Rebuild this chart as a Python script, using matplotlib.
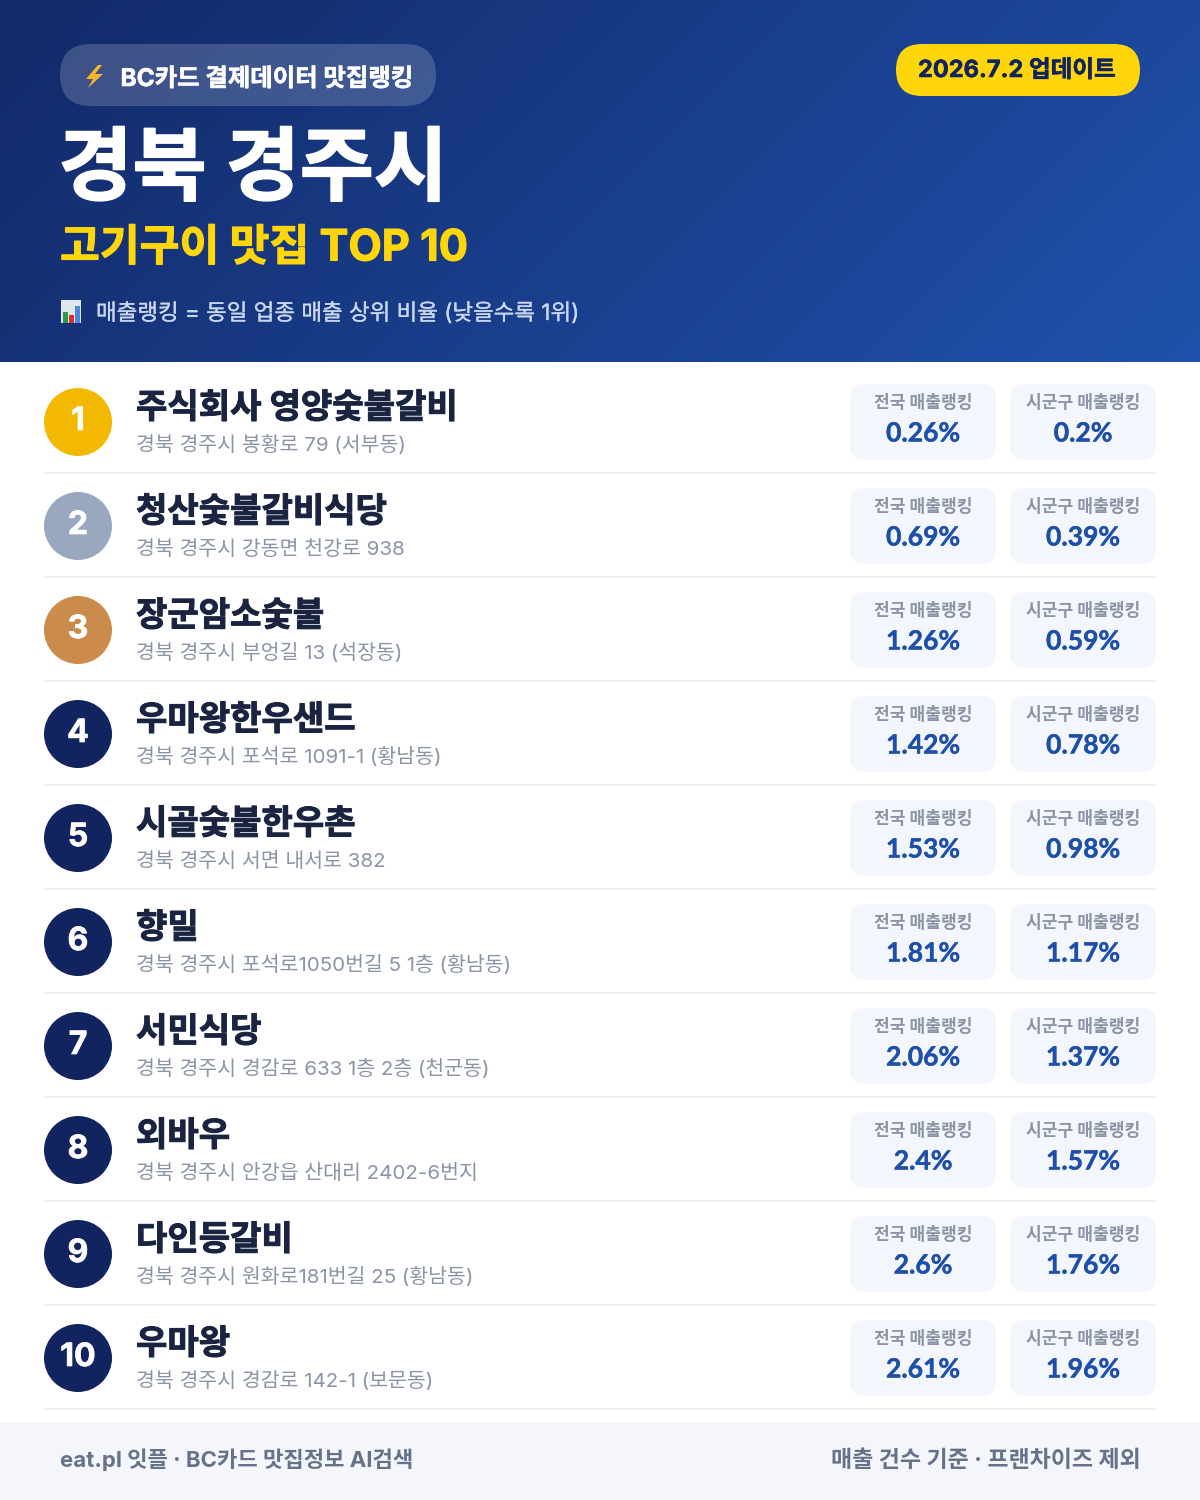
import numpy as np
import matplotlib
matplotlib.use('Agg')
import matplotlib.pyplot as plt
import matplotlib.patheffects as pe
from matplotlib.patches import FancyBboxPatch, Circle, Rectangle, Polygon

plt.rcParams['font.family'] = ['Inter', 'Noto Sans CJK KR', 'DejaVu Sans']

names = ['주식회사 영양숯불갈비', '청산숯불갈비식당', '장군암소숯불', '우마왕한우샌드', '시골숯불한우촌',
         '향밀', '서민식당', '외바우', '다인등갈비', '우마왕']
addrs = ['경북 경주시 봉황로 79 (서부동)', '경북 경주시 강동면 천강로 938', '경북 경주시 부엉길 13 (석장동)',
         '경북 경주시 포석로 1091-1 (황남동)', '경북 경주시 서면 내서로 382',
         '경북 경주시 포석로1050번길 5 1층 (황남동)', '경북 경주시 경감로 633 1층 2층 (천군동)',
         '경북 경주시 안강읍 산대리 2402-6번지', '경북 경주시 원화로181번길 25 (황남동)', '경북 경주시 경감로 142-1 (보문동)']
national = [0.26, 0.69, 1.26, 1.42, 1.53, 1.81, 2.06, 2.4, 2.6, 2.61]
local = [0.2, 0.39, 0.59, 0.78, 0.98, 1.17, 1.37, 1.57, 1.76, 1.96]
rank_colors = ['#f2b900', '#9aa8bf', '#cb8b4b'] + ['#12245f'] * 7

fig = plt.figure(figsize=(12, 15), dpi=100, facecolor='white')
ax = fig.add_axes([0, 0, 1, 1])
ax.set_xlim(0, 1200)
ax.set_ylim(1500, 0)
ax.axis('off')


def put(x, y, s, px, color, weight='regular', ha='left', stroke=0, **kw):
    # px = font size in image pixels, y = baseline, stroke thickens the glyphs
    t = ax.text(x, y, s, fontsize=px * 0.72, color=color, fontweight=weight, ha=ha, va='baseline', **kw)
    if stroke:
        t.set_path_effects([pe.withStroke(linewidth=stroke, foreground=color)])
    return t


def pill(x0, y0, x1, y1, r, color, alpha=1.0):
    ax.add_patch(FancyBboxPatch((x0 + r, y0 + r), x1 - x0 - 2 * r, y1 - y0 - 2 * r,
                                boxstyle=f'round,pad={r},rounding_size={r}',
                                fc=color, ec='none', alpha=alpha))


# header gradient
W, H = 1200, 362
yy, xx = np.mgrid[0:H, 0:W]
t = (xx * 1.0 + yy * 1.0) / (W + H)
t = np.clip(t, 0, 1)[..., None]
c0 = np.array([0x13, 0x29, 0x68]) / 255
c1 = np.array([0x1f, 0x52, 0xac]) / 255
ax.imshow(c0 + (c1 - c0) * t, extent=(0, W, H, 0), aspect='auto', zorder=0)
ax.set_xlim(0, 1200)
ax.set_ylim(1500, 0)

pill(60, 44, 436, 106, 31, '#ffffff', 0.18)
ax.add_patch(Polygon([(98, 65), (86, 79), (93, 79), (88, 88), (103, 74), (95, 74), (102, 65)],
                     fc='#f5b82e', ec='none'))
put(120.5, 86, 'BC카드 결제데이터 맛집랭킹', 24.4, 'white', 'bold', stroke=0.4)
pill(896, 44, 1140, 96, 26, '#ffd60a')
put(1017, 77, '2026.7.2 업데이트', 23.6, '#12245f', 'bold', ha='center', stroke=0.4)
put(58.5, 194, '경북 경주시', 80.5, 'white', 'bold', stroke=1.2)
put(60, 260.5, '고기구이 맛집 TOP 10', 43.3, '#ffd60a', 'bold', stroke=0.8)

# small chart icon
ax.add_patch(Rectangle((61, 300), 20, 23, fc='#dfe6ee', ec='none'))
for bx, bh, bc in zip([63, 69, 75], [11, 8, 17], ['#2c9a4b', '#d3322f', '#4f86d6']):
    ax.add_patch(Rectangle((bx, 323 - bh), 5, bh, fc=bc, ec='none'))
put(96, 320, '매출랭킹 = 동일 업종 매출 상위 비율 (낮을수록 1위)', 22.45, '#c8d6ee', stroke=0.2)

# rows
for i in range(len(names)):
    dy = 104 * i
    ax.add_patch(Circle((78, 422 + dy), 34, fc=rank_colors[i], ec='none'))
    put(78, 430 + dy, str(i + 1), 32, 'white', 'bold', ha='center', stroke=0.5)
    put(136, 418 + dy, names[i], 34.1, '#1a2340', 'bold', stroke=0.7)
    put(136, 451 + dy, addrs[i], 20.5, '#8a94a6')
    ax.plot([44, 1156], [473 + dy, 473 + dy], color='#eceef1', lw=1.5, solid_capstyle='butt')
    for x0, x1, label, val in [(850, 996, '전국 매출랭킹', national[i]), (1010, 1156, '시군구 매출랭킹', local[i])]:
        pill(x0, 384 + dy, x1, 460 + dy, 15, '#f3f6fc')
        xc = (x0 + x1) / 2
        put(xc + 0.5, 407.5 + dy, label, 17.1, '#8a94a6', 'bold', ha='center')
        put(xc, 441.5 + dy, f'{val:g}%', 26.5, '#1e50a8', 'bold', ha='center', stroke=0.3,
            family=['Lato', 'Noto Sans CJK KR'])

# footer
ax.add_patch(Rectangle((0, 1422), 1200, 78, fc='#f4f6fb', ec='none'))
put(60, 1467, 'eat.pl 잇플 · BC카드 맛집정보 AI검색', 22.2, '#66728a', 'bold')
put(1140.5, 1467, '매출 건수 기준 · 프랜차이즈 제외', 23, '#66728a', 'bold', ha='right')

fig.savefig('out.png', dpi=100)
